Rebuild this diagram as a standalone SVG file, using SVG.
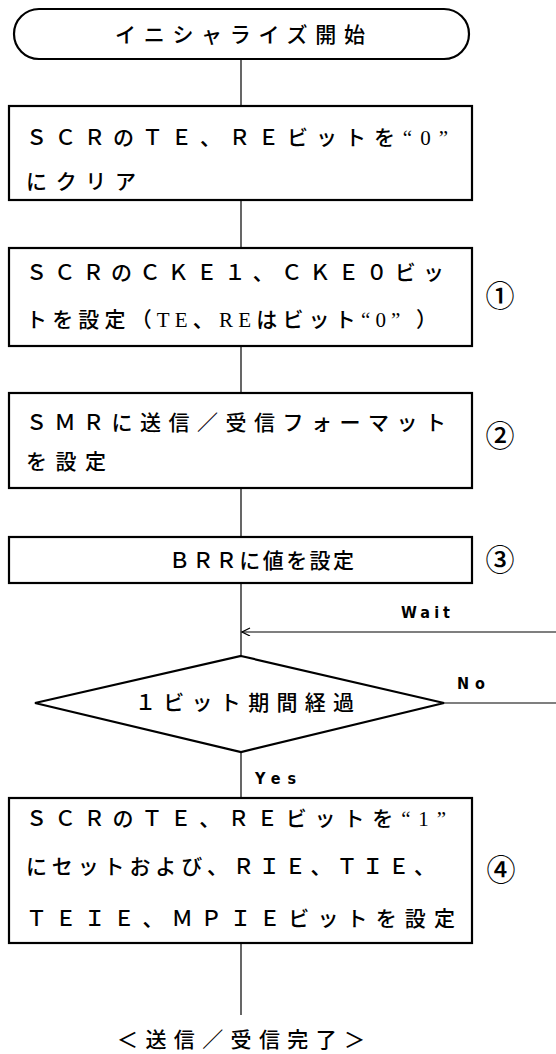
<svg xmlns="http://www.w3.org/2000/svg" width="556" height="1054" viewBox="0 0 556 1054">
<defs>
<style>
.shape{fill:#fff;stroke:#000;stroke-width:2.2}
.conn{fill:none;stroke:#000;stroke-width:1.2}
.t{font-family:"Liberation Serif","Noto Sans CJK JP",serif;font-size:21px;font-weight:500;fill:#000}
.lbl{font-family:"Liberation Sans Narrow","DejaVu Sans Condensed","Liberation Sans",sans-serif;font-weight:bold;font-size:16px;fill:#000}
.num{font-family:"Noto Sans CJK JP",serif;font-size:29px;font-weight:500;fill:#000;text-anchor:middle}
</style>
<marker id="arr" markerWidth="10" markerHeight="10" refX="9" refY="4" orient="auto" markerUnits="userSpaceOnUse">
<path d="M1,0 L9,4 L1,8" fill="none" stroke="#000" stroke-width="1.2"/>
</marker>
</defs>
<rect width="556" height="1054" fill="#fff"/>
<g id="connectors">
<line class="conn" x1="241" y1="59" x2="241" y2="106"/>
<line class="conn" x1="241" y1="200" x2="241" y2="248"/>
<line class="conn" x1="241" y1="346" x2="241" y2="393"/>
<line class="conn" x1="241" y1="488" x2="241" y2="537"/>
<line class="conn" x1="241" y1="583" x2="241" y2="656"/>
<line class="conn" x1="241" y1="752" x2="241" y2="798"/>
<line class="conn" x1="241" y1="943" x2="241" y2="1015"/>
<path class="conn" d="M444,703 H562 V632 H242" marker-end="url(#arr)"/>
<text class="lbl" x="401" y="618" textLength="49" lengthAdjust="spacing">Wait</text>
<text class="lbl" x="457" y="689" textLength="28" lengthAdjust="spacing">No</text>
<text class="lbl" x="255" y="784" textLength="41" lengthAdjust="spacing">Yes</text>
</g>
<g id="start">
<rect class="shape" x="14" y="9" width="455" height="50" rx="25"/>
<text class="t" x="115" y="42" textLength="250" lengthAdjust="spacing">イニシャライズ開始</text>
</g>
<g id="clear">
<rect class="shape" x="9" y="106" width="463" height="94"/>
<text class="t" x="26" y="145" textLength="422" lengthAdjust="spacing">ＳＣＲのＴＥ、ＲＥビットを“0”</text>
<text class="t" x="26" y="189" textLength="110" lengthAdjust="spacing">にクリア</text>
</g>
<g id="cke">
<rect class="shape" x="9" y="248" width="463" height="98"/>
<text class="t" x="26" y="280" textLength="418" lengthAdjust="spacing">ＳＣＲのＣＫＥ１、ＣＫＥ０ビッ</text>
<text class="t" x="26" y="327" textLength="411" lengthAdjust="spacing">トを設定（TE、REはビット“0” ）</text>
<text class="num" x="500" y="307">①</text>
</g>
<g id="smr">
<rect class="shape" x="9" y="393" width="463" height="95"/>
<text class="t" x="26" y="430" textLength="420" lengthAdjust="spacing">ＳＭＲに送信／受信フォーマット</text>
<text class="t" x="26" y="469" textLength="80" lengthAdjust="spacing">を設定</text>
<text class="num" x="500" y="447">②</text>
</g>
<g id="brr">
<rect class="shape" x="9" y="537" width="463" height="46"/>
<text class="t" x="169" y="568" textLength="185" lengthAdjust="spacing">ＢＲＲに値を設定</text>
<text class="num" x="500" y="571">③</text>
</g>
<g id="decision">
<polygon class="shape" points="241,656 444,703 241,752 35,703"/>
<text class="t" x="135" y="710" textLength="219" lengthAdjust="spacing">１ビット期間経過</text>
</g>
<g id="set">
<rect class="shape" x="9" y="798" width="463" height="145"/>
<text class="t" x="26" y="826" textLength="420" lengthAdjust="spacing">ＳＣＲのＴＥ、ＲＥビットを“1”</text>
<text class="t" x="26" y="874" textLength="409" lengthAdjust="spacing">にセットおよび、ＲＩＥ、ＴＩＥ、</text>
<text class="t" x="26" y="926" textLength="429" lengthAdjust="spacing">ＴＥＩＥ、ＭＰＩＥビットを設定</text>
<text class="num" x="501" y="881">④</text>
</g>
<g id="end">
<text class="t" x="117" y="1047" textLength="248" lengthAdjust="spacing">＜送信／受信完了＞</text>
</g>
</svg>
